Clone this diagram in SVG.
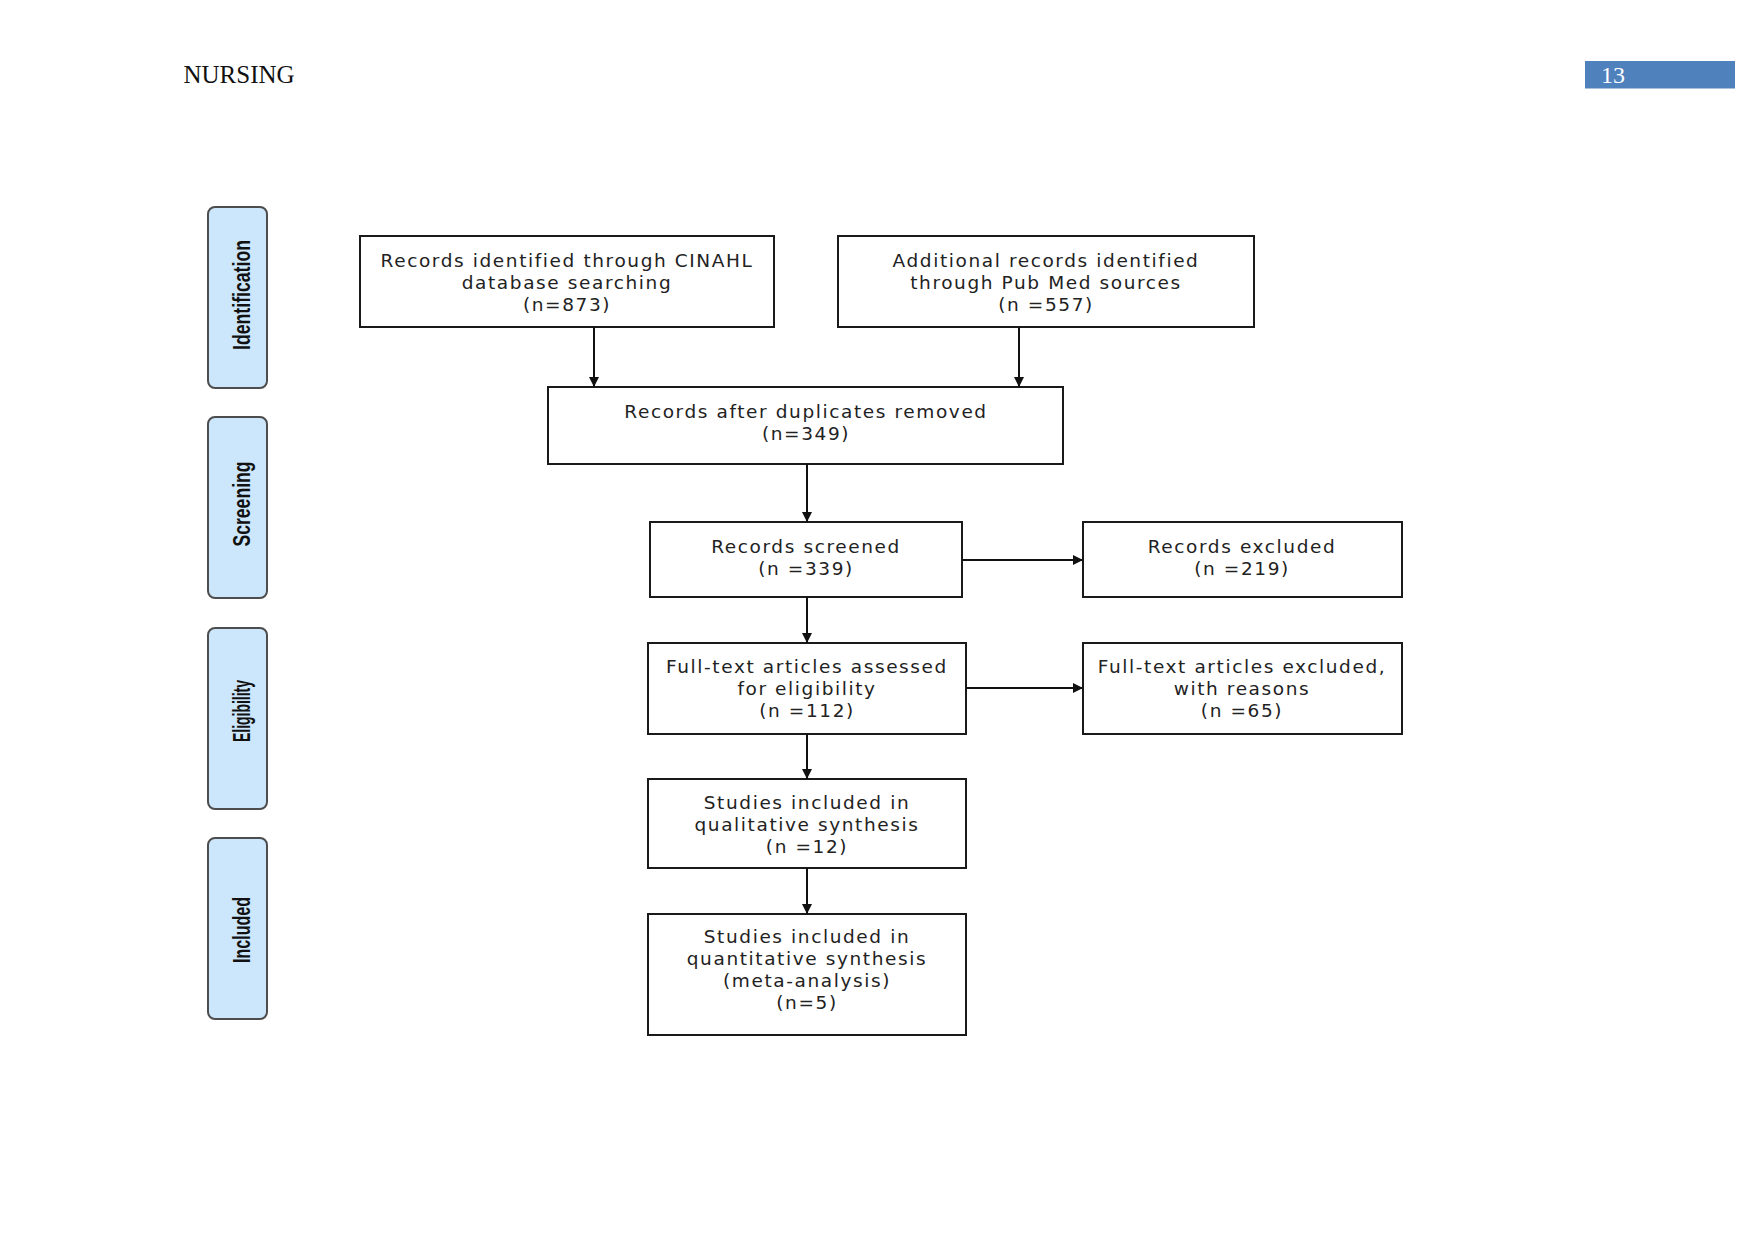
<svg xmlns="http://www.w3.org/2000/svg" width="1754" height="1241" viewBox="0 0 1754 1241">
<style>
.box{fill:#fff;stroke:#1a1a1a;stroke-width:2}
.side{fill:#cce6fc;stroke:#4d4d4d;stroke-width:2}
.t{font-family:"DejaVu Sans",Verdana,sans-serif;font-size:18.5px;letter-spacing:1.6px;fill:#222;text-anchor:middle}
.s{font-family:"Liberation Sans",Arial,sans-serif;font-weight:bold;font-size:23px;fill:#111;text-anchor:middle}
.c{stroke:#111;stroke-width:2;fill:none;marker-end:url(#ah)}
</style>
<defs>
<marker id="ah" viewBox="0 0 10 10" refX="10" refY="5" markerWidth="10" markerHeight="10" markerUnits="userSpaceOnUse" orient="auto">
<path d="M0,0 L10,5 L0,10 z" fill="#111"/>
</marker>
</defs>
<rect width="1754" height="1241" fill="#fff"/>
<g id="header">
<text x="183.5" y="83" font-family="Liberation Serif,Times New Roman,serif" font-size="25" fill="#111">NURSING</text>
<rect x="1585" y="61" width="150" height="27.5" fill="#4f81bd"/>
<text x="1601" y="83" font-family="Liberation Serif,Times New Roman,serif" font-size="24" fill="#fff">13</text>
</g>
<g id="stage-identification">
<rect class="side" x="208" y="207" width="59" height="181" rx="7"/>
<text class="s" transform="translate(238,295) rotate(-90)" x="0" y="12" textLength="110" lengthAdjust="spacingAndGlyphs">Identification</text>
</g>
<g id="stage-screening">
<rect class="side" x="208" y="417" width="59" height="181" rx="7"/>
<text class="s" transform="translate(238,504) rotate(-90)" x="0" y="12" textLength="85" lengthAdjust="spacingAndGlyphs">Screening</text>
</g>
<g id="stage-eligibility">
<rect class="side" x="208" y="628" width="59" height="181" rx="7"/>
<text class="s" transform="translate(238,711) rotate(-90)" x="0" y="12" textLength="62" lengthAdjust="spacingAndGlyphs">Eligibility</text>
</g>
<g id="stage-included">
<rect class="side" x="208" y="838" width="59" height="181" rx="7"/>
<text class="s" transform="translate(238,930) rotate(-90)" x="0" y="12" textLength="66" lengthAdjust="spacingAndGlyphs">Included</text>
</g>
<g id="n-cinahl">
<rect class="box" x="360" y="236" width="414" height="91"/>
<text class="t" x="567" y="267">Records identified through CINAHL</text>
<text class="t" x="567" y="289">database searching</text>
<text class="t" x="567" y="311">(n=873)</text>
</g>
<g id="n-pubmed">
<rect class="box" x="838" y="236" width="416" height="91"/>
<text class="t" x="1046" y="267">Additional records identified</text>
<text class="t" x="1046" y="289">through Pub Med sources</text>
<text class="t" x="1046" y="311">(n =557)</text>
</g>
<g id="n-dedup">
<rect class="box" x="548" y="387" width="515" height="77"/>
<text class="t" x="806" y="418">Records after duplicates removed</text>
<text class="t" x="806" y="440">(n=349)</text>
</g>
<g id="n-screened">
<rect class="box" x="650" y="522" width="312" height="75"/>
<text class="t" x="806" y="553">Records screened</text>
<text class="t" x="806" y="575">(n =339)</text>
</g>
<g id="n-excluded">
<rect class="box" x="1083" y="522" width="319" height="75"/>
<text class="t" x="1242" y="553">Records excluded</text>
<text class="t" x="1242" y="575">(n =219)</text>
</g>
<g id="n-fulltext">
<rect class="box" x="648" y="643" width="318" height="91"/>
<text class="t" x="807" y="673">Full-text articles assessed</text>
<text class="t" x="807" y="695">for eligibility</text>
<text class="t" x="807" y="717">(n =112)</text>
</g>
<g id="n-ft-excluded">
<rect class="box" x="1083" y="643" width="319" height="91"/>
<text class="t" x="1242" y="673">Full-text articles excluded,</text>
<text class="t" x="1242" y="695">with reasons</text>
<text class="t" x="1242" y="717">(n =65)</text>
</g>
<g id="n-qualitative">
<rect class="box" x="648" y="779" width="318" height="89"/>
<text class="t" x="807" y="809">Studies included in</text>
<text class="t" x="807" y="831">qualitative synthesis</text>
<text class="t" x="807" y="853">(n =12)</text>
</g>
<g id="n-quantitative">
<rect class="box" x="648" y="914" width="318" height="121"/>
<text class="t" x="807" y="943">Studies included in</text>
<text class="t" x="807" y="965">quantitative synthesis</text>
<text class="t" x="807" y="987">(meta-analysis)</text>
<text class="t" x="807" y="1009">(n=5)</text>
</g>
<g id="connectors">
<line class="c" x1="594" y1="327" x2="594" y2="387"/>
<line class="c" x1="1019" y1="327" x2="1019" y2="387"/>
<line class="c" x1="807" y1="464" x2="807" y2="522"/>
<line class="c" x1="962" y1="560" x2="1083" y2="560"/>
<line class="c" x1="807" y1="597" x2="807" y2="643"/>
<line class="c" x1="966" y1="688" x2="1083" y2="688"/>
<line class="c" x1="807" y1="734" x2="807" y2="779"/>
<line class="c" x1="807" y1="868" x2="807" y2="914"/>
</g>
</svg>
